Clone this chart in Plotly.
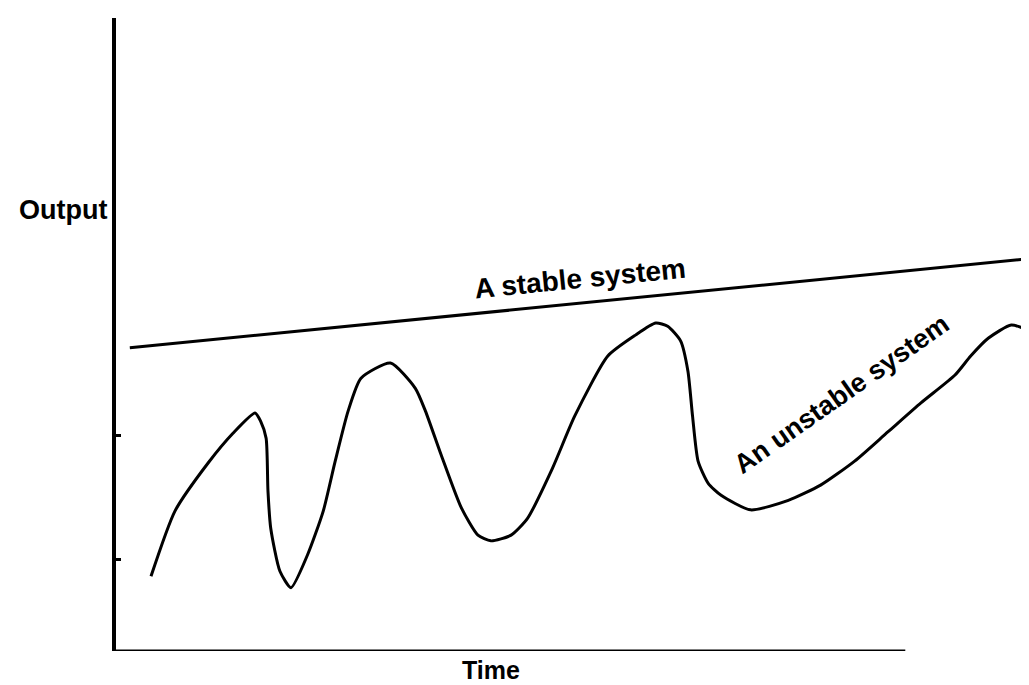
import plotly.graph_objects as go

# ── Data (arbitrary units) ───────────────────────────────────────────────────
stable_time = [0.15, 10.0]
stable_output = [4.79, 6.21]

unstable_time = [0.38, 0.64, 1.00, 1.27, 1.51, 1.57, 1.63, 1.65, 1.68, 1.78,
                 1.90, 2.08, 2.25, 2.38, 2.52, 2.66, 2.98, 3.25, 3.36, 3.53,
                 3.75, 3.93, 4.07, 4.29, 4.47, 4.74, 4.98, 5.34, 5.64, 5.86,
                 5.99, 6.13, 6.21, 6.26, 6.32, 6.43, 6.57, 6.89, 7.30, 7.65,
                 8.02, 8.38, 8.74, 9.11, 9.28, 9.47, 9.72, 9.88, 9.96]
unstable_output = [1.18, 2.21, 2.97, 3.44, 3.76, 3.63, 3.36, 2.53, 1.94, 1.26,
                   1.00, 1.52, 2.21, 3.00, 3.79, 4.31, 4.55, 4.15, 3.79, 3.10,
                   2.26, 1.83, 1.74, 1.83, 2.10, 2.89, 3.71, 4.66, 4.99, 5.18,
                   5.13, 4.90, 4.42, 3.71, 3.00, 2.65, 2.46, 2.23, 2.38, 2.62,
                   3.00, 3.46, 3.92, 4.36, 4.66, 4.94, 5.15, 5.07, 4.83]

y_ticks = [1.44, 3.40]
axis_end = 8.57

INK = "#000000"
FONT = "Liberation Sans, Arial, sans-serif"

fig = go.Figure()
fig.add_trace(go.Scatter(x=stable_time, y=stable_output, mode="lines",
                         line=dict(color=INK, width=3), cliponaxis=False))
fig.add_trace(go.Scatter(x=unstable_time, y=unstable_output, mode="lines",
                         line=dict(color=INK, width=3, shape="spline", smoothing=0.6),
                         cliponaxis=False))

# x axis stops short of the right edge
fig.add_shape(type="line", x0=0, x1=axis_end, y0=0, y1=0,
              line=dict(color=INK, width=3))

label = dict(showarrow=False, xanchor="center", yanchor="middle")
fig.add_annotation(xref="paper", yref="paper", x=-0.0575, y=0.697,
                   text="<b>Output</b>", font=dict(size=27, family=FONT, color=INK), **label)
fig.add_annotation(xref="paper", yref="paper", x=0.407, y=-0.030,
                   text="<b>Time</b>", font=dict(size=25, family=FONT, color=INK), **label)
fig.add_annotation(x=5.04, y=5.88, text="<b>A stable system</b>", textangle=-5.7,
                   font=dict(size=28, family=FONT, color=INK), **label)
fig.add_annotation(x=7.88, y=4.06, text="<b>An unstable system</b>", textangle=-35,
                   font=dict(size=27, family=FONT, color=INK), **label)

fig.update_layout(
    width=1029, height=685, showlegend=False,
    margin=dict(l=108, r=0, t=10, b=42),
    paper_bgcolor="white", plot_bgcolor="white",
    xaxis=dict(range=[0, 10], showgrid=False, zeroline=False, showticklabels=False,
               showline=False),
    yaxis=dict(range=[0, 10], showgrid=False, zeroline=False, showticklabels=False,
               showline=True, linecolor=INK, linewidth=3.5,
               ticks="inside", tickvals=y_ticks, ticklen=5, tickwidth=3, tickcolor=INK),
)

fig.write_html("out.html")
